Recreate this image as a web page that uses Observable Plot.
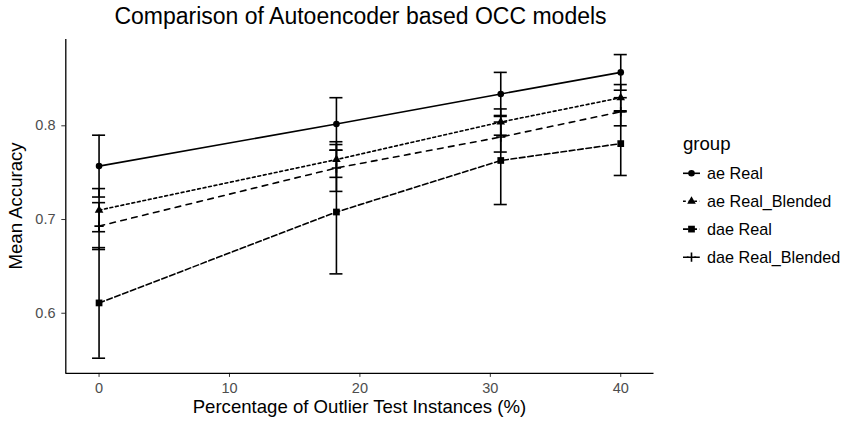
<!DOCTYPE html>
<html>
<head>
<meta charset="utf-8">
<script src="https://cdn.jsdelivr.net/npm/d3@7"></script>
<script src="https://cdn.jsdelivr.net/npm/@observablehq/plot@0.6"></script>
<style>
  body { margin: 0; background: #fff; }
  #wrap { position: relative; width: 845px; height: 424px; overflow: hidden; }
  svg { font-family: "Liberation Sans", Arial, sans-serif; }
</style>
</head>
<body>
<div id="wrap"></div>
<script>
// ---- data ----
const groups = ["ae Real", "ae Real_Blended", "dae Real", "dae Real_Blended"];
const pct = [0, 18.2, 30.8, 40];
const aeRealMean = [0.757, 0.802, 0.834, 0.857];
const aeRealSd = [0.033, 0.028, 0.023, 0.019];
const aeBlendMean = [0.710, 0.764, 0.804, 0.830];
const aeBlendSd = [0.023, 0.019, 0.014, 0.014];
const daeRealMean = [0.611, 0.708, 0.763, 0.781];
const daeRealSd = [0.059, 0.066, 0.047, 0.034];
const daeBlendMean = [0.693, 0.755, 0.788, 0.815];
const daeBlendSd = [0.025, 0.025, 0.016, 0.015];
const xTicks = [0, 10, 20, 30, 40];
const yTicks = [0.6, 0.7, 0.8];

const means = [aeRealMean, aeBlendMean, daeRealMean, daeBlendMean];
const sds = [aeRealSd, aeBlendSd, daeRealSd, daeBlendSd];
const table = groups.flatMap((g, i) => pct.map((x, j) => ({group: g, x, mean: means[i][j], sd: sds[i][j]})));

// styles per group
const dash = {"ae Real": null, "ae Real_Blended": "2.8,2.8", "dae Real": "5.6,2.8", "dae Real_Blended": "5.6,5.6"};
const sym = {"ae Real": "circle", "ae Real_Blended": "triangle", "dae Real": "square", "dae Real_Blended": "plus"};
const symR = {"circle": 3.3, "triangle": 3.2, "square": 3.8, "plus": 3.1};

// ggplot-like domains (errorbar width 1, 5% expansion)
const halfW = 0.5;
const x0 = d3.min(table, d => d.x - halfW), x1 = d3.max(table, d => d.x + halfW);
const y0 = d3.min(table, d => d.mean - d.sd), y1 = d3.max(table, d => d.mean + d.sd);
const xDomain = [x0 - 0.05 * (x1 - x0), x1 + 0.05 * (x1 - x0)];
const yDomain = [y0 - 0.05 * (y1 - y0), y1 + 0.05 * (y1 - y0)];

const W = 845, H = 424;
const lineMarks = groups.map(g => Plot.line(table.filter(d => d.group === g), {
  x: "x", y: "mean", stroke: "black", strokeWidth: 1.6,
  strokeDasharray: dash[g] || undefined
}));
const dotMarks = groups.map(g => {
  const s = sym[g];
  return Plot.dot(table.filter(d => d.group === g), {
    x: "x", y: "mean", symbol: s, r: symR[s],
    fill: s === "plus" ? "none" : "black",
    stroke: s === "plus" ? "black" : "none",
    strokeWidth: s === "plus" ? 1.6 : undefined
  });
});

const svg = Plot.plot({
  width: W, height: H,
  marginLeft: 65.3, marginRight: W - 653.5, marginTop: 38.9, marginBottom: H - 372.9,
  style: {fontFamily: '"Liberation Sans", Arial, sans-serif', background: "white", overflow: "visible"},
  x: {domain: xDomain},
  y: {domain: yDomain},
  marks: [
    ...lineMarks,
    ...dotMarks,
    Plot.ruleX(table, {x: "x", y1: d => d.mean - d.sd, y2: d => d.mean + d.sd, stroke: "black", strokeWidth: 1.6}),
    Plot.ruleY(table, {y: d => d.mean - d.sd, x1: d => d.x - halfW, x2: d => d.x + halfW, stroke: "black", strokeWidth: 1.6}),
    Plot.ruleY(table, {y: d => d.mean + d.sd, x1: d => d.x - halfW, x2: d => d.x + halfW, stroke: "black", strokeWidth: 1.6}),
    Plot.axisX({ticks: xTicks, tickSize: 4, tickPadding: 5.8, fontSize: 14.5, label: null, stroke: "#333", color: "#4d4d4d", tickFormat: d3.format("d")}),
    Plot.axisY({ticks: yTicks, tickSize: 4, tickPadding: 6.3, fontSize: 14.5, label: null, stroke: "#333", color: "#4d4d4d", tickFormat: d3.format(".1f")}),
    Plot.ruleX([xDomain[0]], {stroke: "black", strokeWidth: 1.3}),
    Plot.ruleY([yDomain[0]], {stroke: "black", strokeWidth: 1.3})
  ]
});
document.getElementById("wrap").appendChild(svg);

const s = d3.select(svg);
const font = '"Liberation Sans", Arial, sans-serif';
// title
s.append("text").attr("x", 360.5).attr("y", 23.5).attr("text-anchor", "middle")
  .attr("font-size", 23).attr("fill", "black").attr("font-family", font)
  .text("Comparison of Autoencoder based OCC models");
// axis titles
s.append("text").attr("x", 359.4).attr("y", 413).attr("text-anchor", "middle")
  .attr("font-size", 18.6).attr("fill", "black").attr("font-family", font)
  .text("Percentage of Outlier Test Instances (%)");
s.append("text").attr("transform", "translate(22,205.9) rotate(-90)").attr("text-anchor", "middle")
  .attr("font-size", 18.6).attr("fill", "black").attr("font-family", font)
  .text("Mean Accuracy");

// legend
const lg = s.append("g").attr("text-anchor", "start");
lg.append("text").attr("x", 683).attr("y", 150).attr("font-size", 18.6).attr("fill", "black")
  .attr("text-anchor", "start").attr("font-family", font).text("group");
const rowY = [173.3, 201.2, 229.1, 257.2];
groups.forEach((g, i) => {
  const cy = rowY[i];
  lg.append("line").attr("x1", 683).attr("x2", 700).attr("y1", cy).attr("y2", cy)
    .attr("stroke", "black").attr("stroke-width", 1.6)
    .attr("stroke-dasharray", dash[g] || null);
  const sh = sym[g];
  const r = symR[sh];
  const typ = {circle: d3.symbolCircle, triangle: d3.symbolTriangle, square: d3.symbolSquare, plus: d3.symbolPlus}[sh];
  lg.append("path").attr("transform", `translate(691.5,${cy})`)
    .attr("d", d3.symbol(typ, Math.PI * r * r)())
    .attr("fill", sh === "plus" ? "none" : "black")
    .attr("stroke", sh === "plus" ? "black" : "none")
    .attr("stroke-width", 1.6);
  lg.append("text").attr("x", 707).attr("y", cy + 5.6).attr("font-size", 16.2).attr("fill", "black")
    .attr("text-anchor", "start").attr("font-family", font).text(g);
});
</script>
</body>
</html>
